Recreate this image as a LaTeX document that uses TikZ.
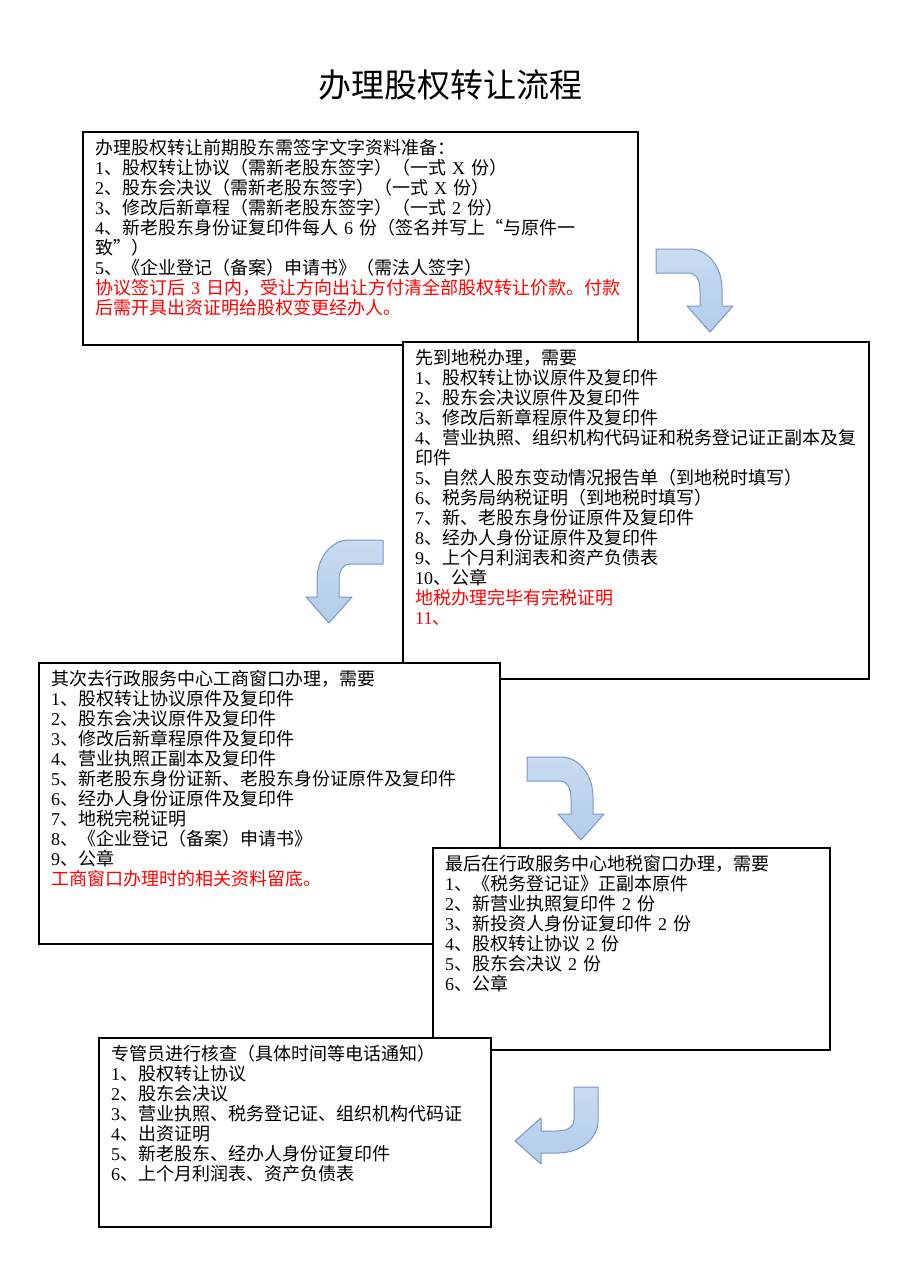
\documentclass[tikz,border=0pt]{standalone}
\usepackage{fontspec}
\setmainfont{Noto Sans CJK SC}
\newfontfamily\tms{Liberation Serif}
\newcommand\ltn[1]{{\tms #1}}
\XeTeXlinebreaklocale "zh"
\XeTeXlinebreakskip=0pt plus 1pt
\definecolor{arrowblue}{RGB}{178,204,234}
\definecolor{arrowline}{RGB}{118,152,198}
\tikzset{
  box/.style={draw=black, line width=1.5pt, fill=white, anchor=north west, inner sep=0pt},
  txt/.style={anchor=north west, align=left, inner xsep=13pt, inner ysep=8pt,
    font=\fontsize{18}{20}\selectfont},
  bendarrow/.pic={
    \draw [top color=arrowblue!70, bottom color=arrowblue, draw=arrowline, line width=1pt, line join=round]
      (0,0) -- (34,0) .. controls (52,0) and (66,18) .. (66,40) -- (66,57)
      -- (77,57) -- (54,83) -- (31,57) -- (44,57) -- (44,42)
      .. controls (44,30) and (40,24) .. (32,24) -- (0,24) -- cycle;
  }
}

\begin{document}
\begin{tikzpicture}[x=1pt, y=-1pt]
  \useasboundingbox (0,0) rectangle (909,1286);

  \node [font=\fontsize{33}{36}\selectfont] (title) at (450,85) {办理股权转让流程};

  % step 1: papers signed by the shareholders
  \node [box, minimum width=555pt, minimum height=213pt] (a) at (82,131) {};
  \node [txt, text width=540pt] (ta) at (a.north west) {%
    办理股权转让前期股东需签字文字资料准备：\\
    \ltn{1}、股权转让协议（需新老股东签字）（一式 \ltn{X} 份）\\
    \ltn{2}、股东会决议（需新老股东签字）（一式 \ltn{X} 份）\\
    \ltn{3}、修改后新章程（需新老股东签字）（一式 \ltn{2} 份）\\
    \makebox[530pt][s]{\ltn{4}、新老股东身份证复印件每人 \ltn{6} 份（签名并写上“与原件一}\\
    致”）\\
    \ltn{5}、《企业登记（备案）申请书》（需法人签字）\\
    \textcolor{red}{协议签订后 \ltn{3} 日内，受让方向出让方付清全部股权转让价款。付款}\\
    \textcolor{red}{后需开具出资证明给股权变更经办人。}};

  % step 2: local tax office
  \node [box, minimum width=466pt, minimum height=337pt] (b) at (402,341) {};
  \node [txt, text width=450pt] (tb) at (b.north west) {%
    先到地税办理，需要\\
    \ltn{1}、股权转让协议原件及复印件\\
    \ltn{2}、股东会决议原件及复印件\\
    \ltn{3}、修改后新章程原件及复印件\\
    \ltn{4}、营业执照、组织机构代码证和税务登记证正副本及复\\
    印件\\
    \ltn{5}、自然人股东变动情况报告单（到地税时填写）\\
    \ltn{6}、税务局纳税证明（到地税时填写）\\
    \ltn{7}、新、老股东身份证原件及复印件\\
    \ltn{8}、经办人身份证原件及复印件\\
    \ltn{9}、上个月利润表和资产负债表\\
    \ltn{10}、公章\\
    \textcolor{red}{地税办理完毕有完税证明}\\
    \textcolor{red}{\ltn{11}、}};

  % step 3: business window
  \node [box, minimum width=461pt, minimum height=281pt] (c) at (38,662) {};
  \node [txt, text width=445pt] (tc) at (c.north west) {%
    其次去行政服务中心工商窗口办理，需要\\
    \ltn{1}、股权转让协议原件及复印件\\
    \ltn{2}、股东会决议原件及复印件\\
    \ltn{3}、修改后新章程原件及复印件\\
    \ltn{4}、营业执照正副本及复印件\\
    \ltn{5}、新老股东身份证新、老股东身份证原件及复印件\\
    \ltn{6}、经办人身份证原件及复印件\\
    \ltn{7}、地税完税证明\\
    \ltn{8}、《企业登记（备案）申请书》\\
    \ltn{9}、公章\\
    \textcolor{red}{工商窗口办理时的相关资料留底。}};

  % step 4: tax window
  \node [box, minimum width=397pt, minimum height=202pt] (d) at (432,847) {};
  \node [txt, text width=380pt] (td) at (d.north west) {%
    最后在行政服务中心地税窗口办理，需要\\
    \ltn{1}、《税务登记证》正副本原件\\
    \ltn{2}、新营业执照复印件 \ltn{2} 份\\
    \ltn{3}、新投资人身份证复印件 \ltn{2} 份\\
    \ltn{4}、股权转让协议 \ltn{2} 份\\
    \ltn{5}、股东会决议 \ltn{2} 份\\
    \ltn{6}、公章};

  % step 5: check
  \node [box, minimum width=392pt, minimum height=189pt] (e) at (98,1037) {};
  \node [txt, text width=375pt] (te) at (e.north west) {%
    专管员进行核查（具体时间等电话通知）\\
    \ltn{1}、股权转让协议\\
    \ltn{2}、股东会决议\\
    \ltn{3}、营业执照、税务登记证、组织机构代码证\\
    \ltn{4}、出资证明\\
    \ltn{5}、新老股东、经办人身份证复印件\\
    \ltn{6}、上个月利润表、资产负债表};

  % bent arrows between the steps
  \pic at (656,249) {bendarrow};
  \pic [xscale=-1] at (383,540) {bendarrow};
  \pic at (527,757) {bendarrow};
  \pic [rotate=-90] at (598,1087) {bendarrow};

\end{tikzpicture}
\end{document}
